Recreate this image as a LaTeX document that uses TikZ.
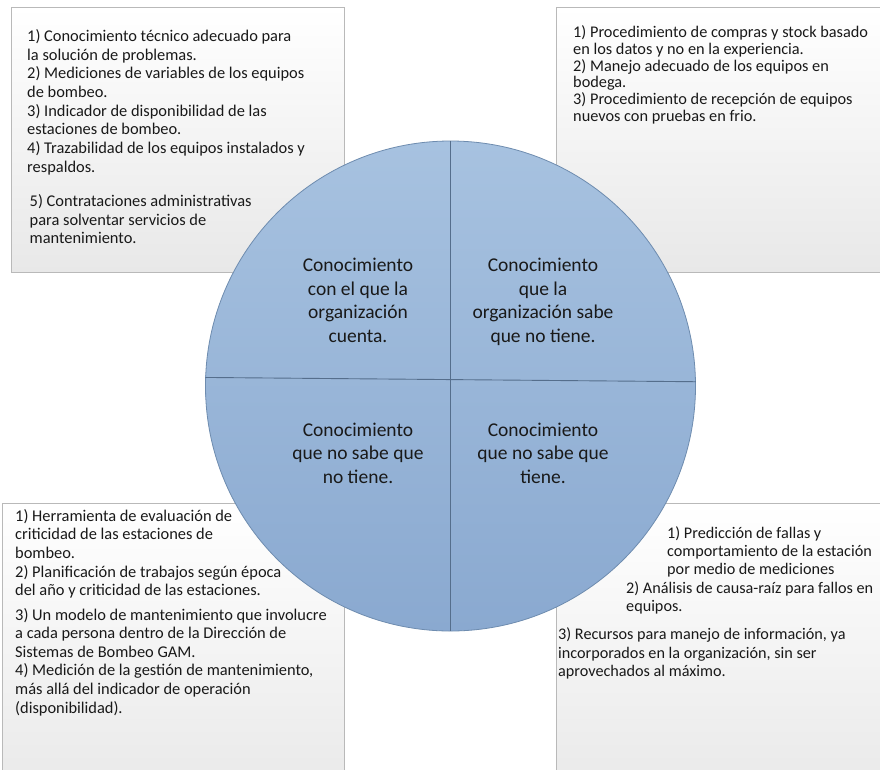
\documentclass[tikz,border=0pt]{standalone}
\usepackage{fontspec}
\setmainfont{Carlito}
\definecolor{txt}{RGB}{25,25,25}
\definecolor{boxline}{RGB}{185,185,185}
\definecolor{boxbot}{RGB}{232,232,232}
\definecolor{disktop}{RGB}{167,194,224}
\definecolor{diskbot}{RGB}{138,169,208}
\definecolor{diskline}{RGB}{110,140,175}
\definecolor{crossline}{RGB}{85,110,140}
\begin{document}
\begin{tikzpicture}[x=1pt,y=-1pt,
  panel/.style={draw=boxline, line width=0.8pt, shading=axis, top color=white, bottom color=boxbot, anchor=north west, inner sep=0pt, outer sep=0pt},
  itemtext/.style={anchor=north west, align=left, inner sep=0pt, text=txt},
  quadtext/.style={anchor=north, align=center, inner sep=0pt, text=txt, font=\fontsize{19.5}{23.5}\selectfont},
]
\useasboundingbox[fill=white] (0,0) rectangle (880,769);
\clip (0,0) rectangle (880,769);
% panels
\node[panel, minimum width=333pt, minimum height=265pt] (tlbox) at (11,7) {};
\node[panel, minimum width=340pt, minimum height=265pt] (trbox) at (556,7) {};
\node[panel, minimum width=342pt, minimum height=300pt] (blbox) at (2,503) {};
\node[panel, minimum width=340pt, minimum height=300pt] (brbox) at (556,503) {};
% panel texts
\node[itemtext, font=\fontsize{16.4}{18.7}\selectfont] (tla) at (27,28.2) {\strut 1) Conocimiento técnico adecuado para\\
la solución de problemas.\\
2) Mediciones de variables de los equipos\\
de bombeo.\\
3) Indicador de disponibilidad de las\\
estaciones de bombeo.\\
4) Trazabilidad de los equipos instalados y\\
respaldos.};
\node[itemtext, font=\fontsize{16.4}{18.7}\selectfont] (tlb) at (29.5,193.2) {\strut 5) Contrataciones administrativas\\
para solventar servicios de\\
mantenimiento.};
\node[itemtext, font=\fontsize{16.3}{16.8}\selectfont] (tra) at (573,25.3) {\strut 1) Procedimiento de compras y stock basado\\
en los datos y no en la experiencia.\\
2) Manejo adecuado de los equipos en\\
bodega.\\
3) Procedimiento de recepción de equipos\\
nuevos con pruebas en frio.};
\node[itemtext, font=\fontsize{16.4}{18.6}\selectfont] (bla) at (15,508.1) {\strut 1) Herramienta de evaluación de\\
criticidad de las estaciones de\\
bombeo.\\
2) Planificación de trabajos según época\\
del año y criticidad de las estaciones.};
\node[itemtext, font=\fontsize{16.4}{18.6}\selectfont] (blb) at (15,606.9) {\strut 3) Un modelo de mantenimiento que involucre\\
a cada persona dentro de la Dirección de\\
Sistemas de Bombeo GAM.\\
4) Medición de la gestión de mantenimiento,\\
más allá del indicador de operación\\
(disponibilidad).};
\node[itemtext, font=\fontsize{16.2}{18.3}\selectfont] (bra) at (667,525.2) {\strut 1) Predicción de fallas y\\
comportamiento de la estación\\
por medio de mediciones};
\node[itemtext, font=\fontsize{16.2}{18.3}\selectfont] (brb) at (626,580.2) {\strut 2) Análisis de causa-raíz para fallos en\\
equipos.};
\node[itemtext, font=\fontsize{16.2}{18.3}\selectfont] (brc) at (558,626.8) {\strut 3) Recursos para manejo de información, ya\\
incorporados en la organización, sin ser\\
aprovechados al máximo.};
% disk
\node[circle, draw=diskline, line width=0.8pt, shading=axis, top color=disktop, bottom color=diskbot, minimum size=490pt, inner sep=0pt] (disk) at (450.5,386) {};
\draw[crossline, line width=0.9pt] (disk.90) -- (disk.270);
\draw[crossline, line width=0.9pt] (disk.178.6) -- (disk.1.4);
% quadrant labels
\node[quadtext] (qtl) at (358,255) {\strut Conocimiento\\con el que la\\organización\\cuenta.};
\node[quadtext] (qtr) at (543,255) {\strut Conocimiento\\que la\\organización sabe\\que no tiene.};
\node[quadtext] (qbl) at (358,419.4) {\strut Conocimiento\\que no sabe que\\no tiene.};
\node[quadtext] (qbr) at (543,419.4) {\strut Conocimiento\\que no sabe que\\tiene.};
\end{tikzpicture}
\end{document}
